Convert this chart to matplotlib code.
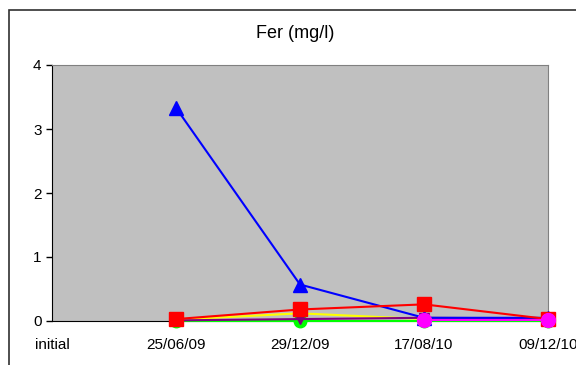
import numpy as np
import matplotlib
matplotlib.use("Agg")
from matplotlib import pyplot as plt
from matplotlib.patches import Rectangle

plt.rcParams['font.family'] = ['Liberation Sans', 'DejaVu Sans']

# sampling dates
dates = ['initial', '25/06/09', '29/12/09', '17/08/10', '09/12/10']

# iron content per well (mg/l), nothing measured at "initial"
blue = [np.nan, 3.33, 0.57, 0.05, 0.05]
red = [np.nan, 0.03, 0.18, 0.26, 0.03]
yellow = [np.nan, 0.02, 0.12, 0.03, 0.02]
purple = [np.nan, 0.01, 0.03, 0.05, 0.04]
green = [np.nan, 0.0, 0.0, 0.0, 0.0]
magenta = [np.nan, np.nan, np.nan, 0.01, 0.01]

fig = plt.figure(figsize=(5.76, 3.65), dpi=100)
# chart frame
fig.patches.append(Rectangle((9/576, -0.1), 1.1, 1 - 10/365 + 0.1, transform=fig.transFigure,
                             fill=False, edgecolor='#303030', linewidth=1.2))

ax = fig.add_axes([52/576, 1 - 321/365, 496/576, 256/365])
ax.set_facecolor('#c0c0c0')
x = np.arange(len(dates))

ax.plot(x, green, color='#00ff00', marker='o', markersize=9, lw=1.5, clip_on=False, zorder=3)
ax.plot(x, yellow, color='#ffff00', lw=1.5, clip_on=False, zorder=3)
ax.plot(x, purple, color='#800080', marker='v', markersize=7, lw=1.5, clip_on=False, zorder=4)
ax.plot(x, blue, color='#0000ff', marker='^', markersize=10, lw=1.5, clip_on=False, zorder=5)
ax.plot(x, red, color='#ff0000', marker='s', markersize=10, lw=1.5, clip_on=False, zorder=6)
ax.plot(x, magenta, color='#ff00ff', marker='o', markersize=10, lw=1.5, clip_on=False, zorder=7)

ax.set_xlim(0, 4)
ax.set_ylim(0, 4)
ax.set_yticks([0, 1, 2, 3, 4])
ax.set_xticks(x)
ax.set_xticklabels(dates, fontsize=11)
ax.tick_params(axis='y', labelsize=11, direction='out', length=4, width=1)
ax.tick_params(axis='x', length=0, pad=12)

for s in ['top', 'right']:
    ax.spines[s].set_color('#808080')
for s in ['left', 'bottom']:
    ax.spines[s].set_color('#000000')

fig.text(295/576, 1 - 33/365, 'Fer (mg/l)', fontsize=13, ha='center', va='center')

fig.savefig('out.png', dpi=100)
